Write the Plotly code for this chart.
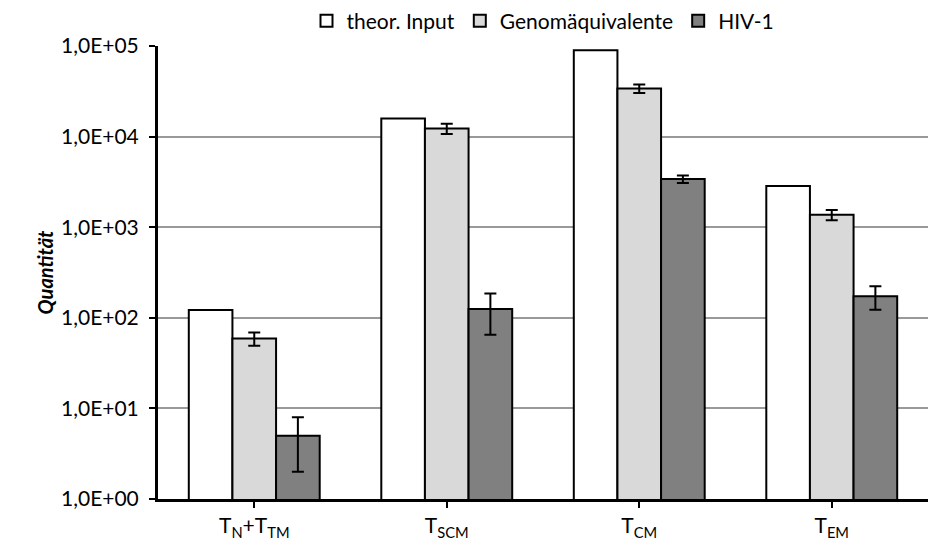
import plotly.graph_objects as go

categories = ["T<sub>N</sub>+T<sub>TM</sub>", "T<sub>SCM</sub>", "T<sub>CM</sub>", "T<sub>EM</sub>"]
series_names = ["theor. Input", "Genomäquivalente", "HIV-1"]
theor_input = [122, 15800, 90000, 2850]
genom = [59, 12300, 34000, 1370]
genom_err = [10, 1600, 3700, 180]
hiv = [5, 125, 3400, 173]
hiv_err = [3, 60, 320, 50]
tick_vals = [1, 10, 100, 1000, 10000, 100000]
tick_text = ["1,0E+00", "1,0E+01", "1,0E+02", "1,0E+03", "1,0E+04", "1,0E+05"]

FONT = "Lato, Liberation Sans, sans-serif"

fig = go.Figure()
fig.add_trace(go.Bar(x=categories, y=theor_input, name=series_names[0],
                     marker=dict(color="#ffffff", line=dict(color="black", width=2))))
fig.add_trace(go.Bar(x=categories, y=genom, name=series_names[1],
                     marker=dict(color="#d9d9d9", line=dict(color="black", width=2)),
                     error_y=dict(type="data", array=genom_err, color="black", thickness=2, width=6)))
fig.add_trace(go.Bar(x=categories, y=hiv, name=series_names[2],
                     marker=dict(color="#808080", line=dict(color="black", width=2)),
                     error_y=dict(type="data", array=hiv_err, color="black", thickness=2, width=6)))

fig.update_layout(
    width=928, height=542,
    margin=dict(l=158, r=0, t=46, b=43),
    paper_bgcolor="white", plot_bgcolor="white",
    barmode="group", bargap=0.32, bargroupgap=0,
    font=dict(family=FONT, size=21, color="black"),
    legend=dict(orientation="h", x=0.5, xanchor="center", y=1.1, yanchor="top",
                font=dict(size=21), itemwidth=30, traceorder="normal"),
    showlegend=True,
)
fig.update_yaxes(type="log", range=[0, 5], tickvals=tick_vals, ticktext=tick_text,
                 showgrid=True, gridcolor="#999999", gridwidth=2,
                 showline=True, linecolor="black", linewidth=3,
                 ticks="outside", ticklen=6, tickwidth=2, tickcolor="black",
                 ticklabelstandoff=6,
                 title=dict(text="<b><i>Quantität</i></b>", font=dict(size=20), standoff=3),
                 zeroline=False)
fig.update_xaxes(showline=True, linecolor="black", linewidth=3,
                 ticks="outside", ticklen=6, tickwidth=2, tickcolor="black",
                 showgrid=False)

fig.write_html("out.html")
